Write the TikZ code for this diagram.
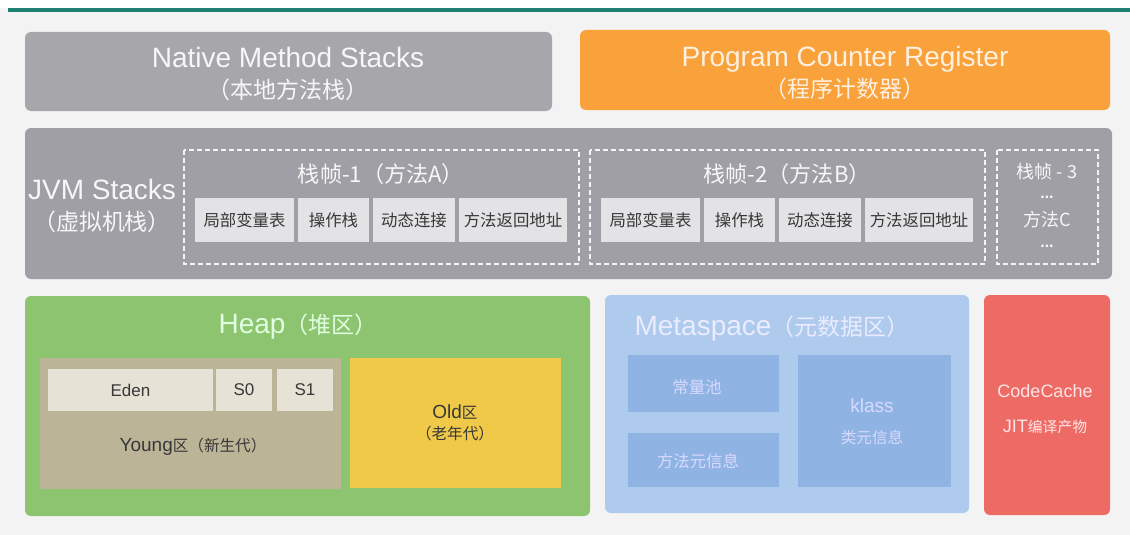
\documentclass[tikz,border=0pt]{standalone}
\usepackage{fontspec}
\setmainfont{Liberation Sans}
\newfontfamily\cjk[Scale=0.82]{Noto Sans CJK SC}

\definecolor{pagebg}{HTML}{F3F3F3}
\definecolor{rule}{HTML}{1E7F73}
\definecolor{nativegray}{HTML}{A7A6AB}
\definecolor{jvmgray}{HTML}{A09FA5}
\definecolor{cellgray}{HTML}{E3E3E5}
\definecolor{pcorange}{HTML}{F9A13A}
\definecolor{heapgreen}{HTML}{8DC46F}
\definecolor{youngtan}{HTML}{BCB497}
\definecolor{edencell}{HTML}{E6E2D6}
\definecolor{oldyellow}{HTML}{EFC947}
\definecolor{metablue}{HTML}{AECBEE}
\definecolor{metacell}{HTML}{8FB4E3}
\definecolor{cachered}{HTML}{EE6B65}
\definecolor{darktext}{HTML}{383838}

\tikzset{
    block/.style = {rounded corners=6pt},
    frame/.style = {draw=white!92!gray, dash pattern=on 5pt off 3pt, line width=1.2pt},
    biglabel/.style = {font=\fontsize{28}{31}\selectfont, align=center, text=white!94!gray},
    celllabel/.style = {font=\fontsize{20}{24}\selectfont\cjk, text=darktext},
    smalllabel/.style = {font=\fontsize{18}{22}\selectfont, text=darktext, align=center}
}

\begin{document}
\begin{tikzpicture}[x=1pt,y=-1pt]
    \useasboundingbox (0,0) rectangle (1130,535);
    \fill[pagebg] (0,0) rectangle (1130,535);
    \fill[white] (0,0) rectangle (1130,8);
    \fill[rule] (8,8) rectangle (1130,12);

    % top row
    \fill[nativegray, block] (25,32) rectangle (552,111);
    \node[biglabel] (native) at (288,74) {Native Method Stacks\\{\cjk （本地方法栈）}};
    \fill[pcorange, block] (580,30) rectangle (1110,110);
    \node[biglabel, text=white!88!orange] (pc) at (845,73) {Program Counter Register\\{\cjk （程序计数器）}};

    % jvm stacks
    \fill[jvmgray, block] (25,128) rectangle (1112,279);
    \node[biglabel] (jvm) at (102,206) {JVM Stacks\\{\cjk （虚拟机栈）}};
    \foreach \dx/\n/\m in {0/1/A, 406/2/B} {
        \draw[frame] (184+\dx,150) rectangle (579+\dx,264);
        \node[font=\fontsize{27}{30}\selectfont\cjk, text=white!94!gray] (frame\n) at (381+\dx,174) {栈帧-\n（方法\m）};
        \fill[cellgray] (195+\dx,198) rectangle (294+\dx,242);
        \fill[cellgray] (298+\dx,198) rectangle (369+\dx,242);
        \fill[cellgray] (373+\dx,198) rectangle (455+\dx,242);
        \fill[cellgray] (459+\dx,198) rectangle (567+\dx,242);
        \node[celllabel] (locals\n) at (244.5+\dx,220) {局部变量表};
        \node[celllabel] (operand\n) at (333.5+\dx,220) {操作栈};
        \node[celllabel] (dynlink\n) at (414+\dx,220) {动态连接};
        \node[celllabel] (retaddr\n) at (513+\dx,220) {方法返回地址};
    }
    \draw[frame] (997,150) rectangle (1098,264);
    \node[font=\fontsize{22}{26}\selectfont\cjk, text=white!94!gray] (frame3) at (1047,172) {栈帧 - 3};
    \node[font=\fontsize{16}{18}\selectfont\bfseries, text=white!94!gray] (dotsa) at (1047,197) {...};
    \node[font=\fontsize{22}{26}\selectfont\cjk, text=white!94!gray] (methodc) at (1047,220) {方法C};
    \node[font=\fontsize{16}{18}\selectfont\bfseries, text=white!94!gray] (dotsb) at (1047,246) {...};

    % heap
    \fill[heapgreen, block] (25,296) rectangle (590,516);
    \node[biglabel, text=white!88!green] (heap) at (298,327) {Heap{\cjk （堆区）}};
    \fill[youngtan] (40,358) rectangle (341,489);
    \fill[edencell] (48,369) rectangle (213,411);
    \fill[edencell] (216,369) rectangle (272,411);
    \fill[edencell] (277,369) rectangle (333,411);
    \node[smalllabel, font=\fontsize{17}{20}\selectfont] (eden) at (130.5,390) {Eden};
    \node[smalllabel, font=\fontsize{17}{20}\selectfont] (szero) at (244,390) {S0};
    \node[smalllabel, font=\fontsize{17}{20}\selectfont] (sone) at (305,390) {S1};
    \node[smalllabel, font=\fontsize{19}{22}\selectfont] (young) at (193,447) {Young{\cjk 区（新生代）}};
    \fill[oldyellow] (350,358) rectangle (561,488);
    \node[smalllabel, font=\fontsize{19}{21}\selectfont] (old) at (455,423) {Old{\cjk 区}\\{\cjk （老年代）}};

    % metaspace
    \fill[metablue, block] (605,295) rectangle (969,513);
    \node[biglabel, anchor=west, text=white!92!blue] (meta) at (631,329) {Metaspace{\cjk （元数据区）}};
    \fill[metacell] (628,355) rectangle (779,412);
    \fill[metacell] (628,433) rectangle (779,487);
    \fill[metacell] (798,355) rectangle (951,487);
    \node[celllabel, text=white!85!blue] (constpool) at (697,387) {常量池};
    \node[celllabel, text=white!85!blue] (methodmeta) at (698,461) {方法元信息};
    \node[smalllabel, font=\fontsize{19}{31}\selectfont, text=white!85!blue] (klass) at (872,422) {klass\\{\cjk 类元信息}};

    % code cache
    \fill[cachered, block] (984,295) rectangle (1110,515);
    \node[smalllabel, font=\fontsize{18}{35}\selectfont, text=white!90!red] (codecache) at (1045,409) {CodeCache\\JIT{\cjk 编译产物}};
\end{tikzpicture}
\end{document}
